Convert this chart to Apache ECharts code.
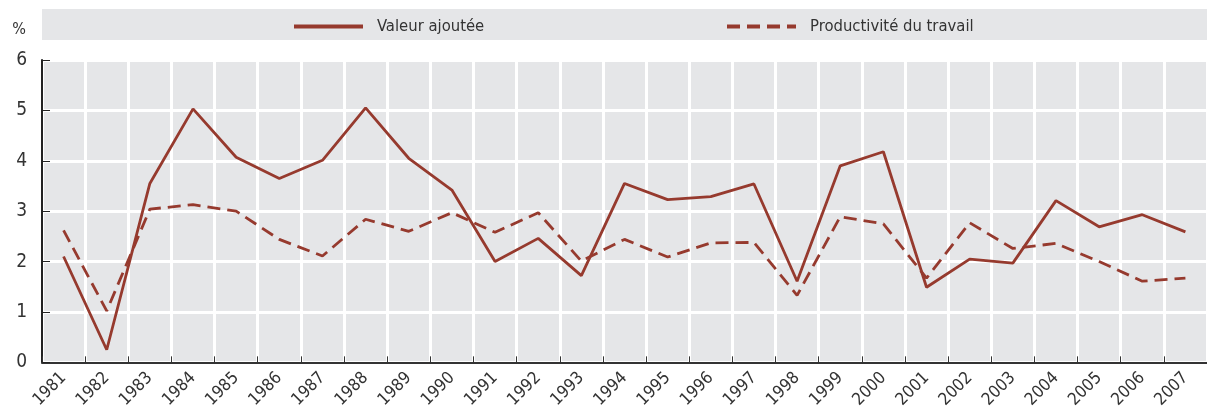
<!DOCTYPE html>
<html>
<head>
<meta charset="utf-8">
<script src="https://cdn.jsdelivr.net/npm/echarts@6/dist/echarts.min.js"></script>
<style>
  html, body { margin: 0; padding: 0; background: #fff; }
  #chart { width: 1207px; height: 411px; }
</style>
</head>
<body>
<div id="chart"></div>
<script>
// années
var years = ['1981','1982','1983','1984','1985','1986','1987','1988','1989','1990',
  '1991','1992','1993','1994','1995','1996','1997','1998','1999','2000',
  '2001','2002','2003','2004','2005','2006','2007'];

// croissance de la valeur ajoutée (%)
var valeurAjoutee = [2.10, 0.25, 3.55, 5.03, 4.07, 3.65, 4.01, 5.05, 4.05, 3.42,
  2.00, 2.46, 1.72, 3.55, 3.23, 3.29, 3.54, 1.61, 3.90, 4.18,
  1.49, 2.05, 1.97, 3.21, 2.69, 2.93, 2.59];

// croissance de la productivité du travail (%)
var productivite = [2.62, 1.02, 3.04, 3.13, 3.00, 2.44, 2.11, 2.84, 2.60, 2.97,
  2.58, 2.97, 2.01, 2.44, 2.09, 2.37, 2.38, 1.33, 2.89, 2.75,
  1.67, 2.77, 2.26, 2.36, 2.00, 1.61, 1.67];

var yTicks = { min: 0, max: 6, interval: 1 };

var red = '#963a2e';
var font = '"Liberation Sans Narrow", "DejaVu Sans Condensed", sans-serif';

var chart = echarts.init(document.getElementById('chart'));

// légende : une par série, placées à la main
function legendAt(left, name) {
  return {
    left: left, top: 18, padding: 0,
    itemWidth: 69, itemHeight: 14,
    data: [name],
    itemStyle: { opacity: 0 },
    lineStyle: { width: 4 },
    textStyle: { fontFamily: font, fontSize: 16.5, color: '#333', padding: [0, 0, 0, 9] }
  };
}

var option = {
  animation: false,
  backgroundColor: '#fff',
  graphic: [{
    type: 'rect',
    z: -1,
    shape: { x: 42, y: 9, width: 1165, height: 31 },
    style: { fill: '#e5e6e8' }
  }],
  legend: [
    legendAt(292, 'Valeur ajoutée'),
    legendAt(725, 'Productivité du travail')
  ],
  grid: {
    left: 42, top: 60, width: 1172, height: 305,
    show: true, backgroundColor: '#e5e6e8', borderWidth: 0
  },
  xAxis: {
    type: 'category',
    data: years,
    boundaryGap: true,
    axisLine: { lineStyle: { color: '#333', width: 2 } },
    axisTick: { show: true, inside: true, length: 6, lineStyle: { color: '#333', width: 1 } },
    splitLine: { show: true, lineStyle: { color: '#fff', width: 3 } },
    axisLabel: {
      interval: 0, rotate: 45, margin: 13,
      fontFamily: font, fontSize: 17, color: '#333'
    }
  },
  yAxis: {
    type: 'value',
    min: yTicks.min, max: yTicks.max, interval: yTicks.interval,
    name: '%',
    nameLocation: 'end',
    nameGap: 22,
    nameTextStyle: { fontFamily: font, fontSize: 16, color: '#333', align: 'right', padding: [0, 16, 0, 0] },
    axisLine: { show: true, lineStyle: { color: '#222', width: 2 } },
    axisTick: { show: true, inside: true, length: 8, lineStyle: { color: '#222', width: 1 } },
    splitLine: { show: true, lineStyle: { color: '#fff', width: 3 } },
    axisLabel: { fontFamily: font, fontSize: 19, color: '#333', margin: 15 }
  },
  series: [
    {
      name: 'Valeur ajoutée',
      type: 'line',
      data: valeurAjoutee,
      symbol: 'none',
      color: red,
      lineStyle: { color: red, width: 2.8 }
    },
    {
      name: 'Productivité du travail',
      type: 'line',
      data: productivite,
      symbol: 'none',
      color: red,
      lineStyle: { color: red, width: 2.8, type: [13, 7] }
    }
  ]
};

chart.setOption(option);
</script>
</body>
</html>
